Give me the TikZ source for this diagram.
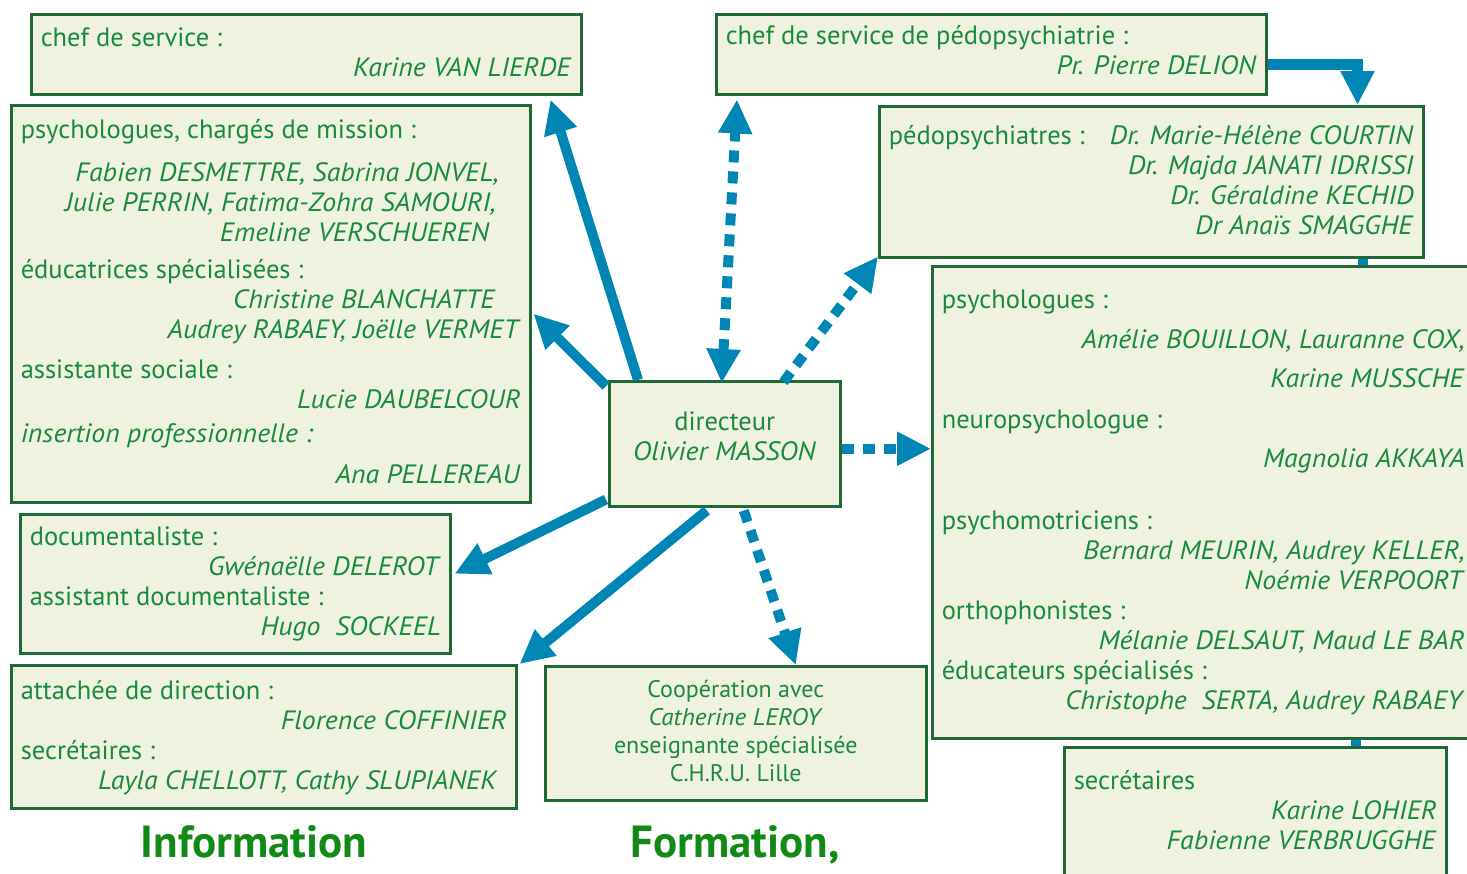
\documentclass[tikz,border=0pt]{standalone}
\usepackage{fontspec}
\setmainfont{PT Sans}[ItalicFeatures={FakeStretch=1.05}]
\usepackage{tikz}
\usetikzlibrary{calc}
\usetikzlibrary{arrows.meta}
\definecolor{flowblue}{RGB}{0,134,181}
\definecolor{framegreen}{RGB}{30,105,52}
\definecolor{panelfill}{RGB}{239,241,225}
\definecolor{textgreen}{RGB}{25,140,58}
\definecolor{titlegreen}{RGB}{18,138,22}
\newcommand{\who}[1]{\null\hfill\textit{#1}}
\newcommand{\boxtext}[4]{\parbox[c][#2pt][t]{#1pt}{\fontsize{26.5}{30}\selectfont\rule{0pt}{#3pt}#4}}
\tikzset{
    unit/.style = {draw=framegreen, fill=panelfill, line width=2.5pt, inner sep=0pt,
        inner xsep=9.5pt, anchor=north west, text=textgreen},
    tie/.style = {draw=flowblue, line width=10pt},
    link/.style = {tie, >={Triangle[length=34pt,width=32pt]}, ->},
    dotlink/.style = {link, dash pattern=on 12pt off 9pt},
    heading/.style = {text=titlegreen, font=\bfseries\fontsize{45}{52}\selectfont, anchor=base}}

\begin{document}
\begin{tikzpicture}[x=1pt, y=-1pt]
    \useasboundingbox (0,0) rectangle (1467,873);
    \clip (0,0) rectangle (1467,873);

    % left column
    \node[unit] (chefserv) at (30,13) {\boxtext{531}{80}{32}{chef de service :\\
        \who{Karine VAN LIERDE}}};
    \node[unit] (psych) at (10,104) {\boxtext{500}{397}{33}{psychologues, chargés de mission :\\[13pt]
        \who{Fabien DESMETTRE, Sabrina JONVEL,}\hspace*{22pt}\\
        \who{Julie PERRIN, Fatima-Zohra SAMOURI,}\hspace*{25pt}\\
        \who{Emeline VERSCHUEREN}\hspace*{31pt}\\[7pt]
        éducatrices spécialisées :\\
        \who{Christine BLANCHATTE}\hspace*{25pt}\\
        \who{Audrey RABAEY, Joëlle VERMET}\\[10pt]
        assistante sociale :\\
        \who{Lucie DAUBELCOUR}\\[4pt]
        \textit{insertion professionnelle :}\\[11pt]
        \who{Ana PELLEREAU}}};
    \node[unit] (doc) at (19,513) {\boxtext{411}{139}{31}{documentaliste :\\
        \who{Gwénaëlle DELEROT}\\
        assistant documentaliste :\\
        \who{Hugo\ \ SOCKEEL}}};
    \node[unit] (att) at (10,664) {\boxtext{486}{143}{34}{attachée de direction :\\
        \who{Florence COFFINIER}\\
        secrétaires :\\
        \who{Layla CHELLOTT, Cathy SLUPIANEK}\hspace*{9pt}}};

    % centre
    \node[unit] (dir) at (608,380) {\boxtext{212}{125}{49}{\centering directeur\\
        \textit{Olivier MASSON}}};
    \node[unit] (coop) at (544,665) {\boxtext{362}{134}{31}{\centering\fontsize{24}{28}\selectfont
        Coopération avec\\ \textit{Catherine LEROY}\\ enseignante spécialisée\\ C.H.R.U. Lille}};

    % right column
    \node[unit] (chefpedo) at (715,13) {\boxtext{531}{80}{30}{chef de service de pédopsychiatrie :\\
        \who{Pr. Pierre DELION}}};
    \node[unit] (pedo) at (878,105) {\boxtext{525}{151}{38}{pédopsychiatres :\hfill\textit{Dr. Marie-Hélène COURTIN}\\
        \who{Dr. Majda JANATI IDRISSI}\\
        \who{Dr. Géraldine KECHID}\\
        \who{Dr Anaïs SMAGGHE}}};
    \node[unit] (psyR) at (931,265) {\boxtext{523}{472}{42}{psychologues :\\[10pt]
        \who{Amélie BOUILLON, Lauranne COX,}\\[9pt]
        \who{Karine MUSSCHE}\\[11pt]
        neuropsychologue :\\[9pt]
        \who{Magnolia AKKAYA}\\[32pt]
        psychomotriciens :\\
        \who{Bernard MEURIN, Audrey KELLER,}\\
        \who{Noémie VERPOORT}\\
        orthophonistes :\\
        \who{Mélanie DELSAUT, Maud LE BAR}\\
        éducateurs spécialisés :\\
        \who{Christophe\ \ SERTA, Audrey RABAEY}}};
    \node[unit] (sec) at (1063,746) {\boxtext{363}{160}{42}{secrétaires\\
        \who{Karine LOHIER}\\
        \who{Fabienne VERBRUGGHE}}};

    \node[heading] (info) at (254,857) {Information};
    \node[heading] (form) at (735,857) {Formation,};

    % links
    \coordinate (pedoB) at ($(pedo.south east)+(-62,0)$);
    \coordinate (psyB) at ($(sec.north east)+(-92,0)$);
    \coordinate (dirR) at ($(dir.east)+(0,5)$);
    \draw[tie] (pedoB) -- (pedoB |- psyR.north);
    \draw[tie] (psyB |- psyR.south) -- (psyB);
    \draw[link] ($(dir.north west)+(30,0)$) -- ($(chefserv.south east)+(-32,4)$);
    \draw[link] ($(dir.north west)+(-2,6)$) -- ($(psych.east)+(2,10)$);
    \draw[link] ($(dir.south west)+(-2,-8)$) -- ($(doc.east)+(3,-10)$);
    \draw[link] ($(dir.south)+(-18,3)$) -- ($(att.north east)+(2,0)$);
    \draw[link, line width=11pt] ($(chefpedo.east)+(0,10)$) -| ($(pedo.north east)+(-67,0)$);
    \draw[dotlink, <->] ($(dir.north)+(-3,3)$) -- ($(chefpedo.south west)+(22,4)$);
    \draw[dotlink] ($(dir.north east)+(-58,2)$) -- ($(pedo.south west)+(0,-2)$);
    \draw[dotlink] (dirR) -- (dirR -| psyR.west);
    \draw[dotlink] ($(dir.south)+(19,3)$) -- ($(coop.north)+(60,0)$);
\end{tikzpicture}
\end{document}
